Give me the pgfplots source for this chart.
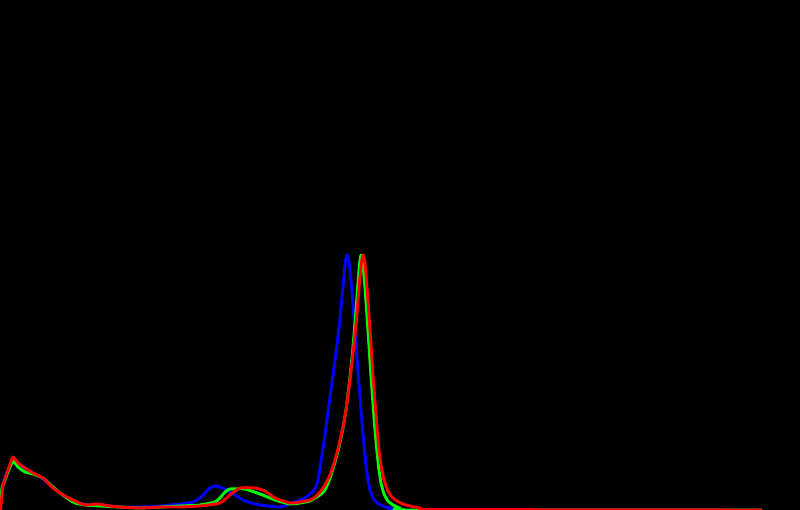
\documentclass[border=0pt]{standalone}
\usepackage{pgfplots}
\pgfplotsset{compat=1.18}
\begin{document}
\begin{tikzpicture}
\fill[black] (0,0) rectangle (800pt,510pt);
\begin{axis}[at={(0,0)},anchor=south west,scale only axis,width=800pt,height=510pt,
  xmin=0,xmax=800,ymin=0,ymax=510,axis lines=none,ticks=none,clip=true]
\addplot[color={rgb,255:red,0;green,0;blue,255},line width=2.9pt,line join=round,smooth,tension=0.3] coordinates {
(0.5,2)(2,20)(4,30)(8,40)(13,51)(18,45)(25,40)(33,37)(43,31)(53,22)(60,17)(67,13)(75,8)(83,6)(92,5)(100,5)(110,4)(120,3)(140,3)(160,4)(180,6)(193,8)(200,12)(205,17)(210,22)(215,24)(220,23)(225,21)(235,15)(245,9)(260,5)(280,3)(290,6)(300,10)(305,12)(310,16)(315,21)(318,30)(320,42)(322,55)(325,75)(328,98)(331,120)(334,142)(337,165)(340,192)(342,213)(344,235)(345,245)(346,252)(347,255)(348,253)(349,248)(350,240)(352,218)(354,192)(356,165)(358,138)(360,112)(362,88)(364,65)(366,45)(368,30)(370,20)(373,12)(377,7)(385,3)(395,1)(405,0)(762,0)};
\addplot[color={rgb,255:red,0;green,255;blue,0},line width=2.9pt,line join=round,smooth,tension=0.3] coordinates {
(0.5,2)(2,22)(5,30)(8,38)(13,49)(18,43)(25,38)(33,36)(43,32)(53,23)(60,17)(67,12)(75,7)(85,5)(100,4)(120,3)(140,2)(160,3)(180,4)(200,5)(215,8)(220,12)(225,18)(230,21)(245,21)(260,16)(275,10)(290,6)(300,7)(310,9)(315,12)(320,15)(325,20)(330,32)(335,48)(339,63)(343,82)(346,100)(349,124)(352,152)(354,175)(356,200)(358,227)(359,240)(360,250)(361,255)(362,253)(363,246)(365,222)(367,194)(369,164)(371,134)(373,106)(375,80)(377,58)(379,40)(381,27)(384,16)(388,9)(393,5)(400,2)(410,0)(762,0)};
\addplot[color={rgb,255:red,255;green,0;blue,0},line width=2.9pt,line join=round,smooth,tension=0.3] coordinates {
(0.5,0)(1.5,10)(3,25)(8,40)(13,53)(18,47)(25,42)(33,37)(43,32)(53,22)(60,17)(67,13)(75,9)(85,5)(97,6)(110,4)(120,3)(140,2)(160,3)(180,3)(200,4)(220,7)(230,15)(240,22)(255,22)(265,19)(275,12)(290,7)(300,8)(310,10)(315,13)(320,18)(325,25)(330,35)(335,50)(339,65)(343,83)(346,100)(349,122)(352,148)(355,175)(357,197)(359,222)(361,243)(362,251)(363,255)(364,253)(365,247)(367,222)(369,194)(371,165)(373,135)(375,108)(377,82)(379,60)(381,45)(384,30)(388,19)(392,13)(397,9)(403,6)(410,4)(420,2)(437,0.5)(762,0)};
\end{axis}
\pgfresetboundingbox
\useasboundingbox (0,0) rectangle (800pt,510pt);
\end{tikzpicture}
\end{document}
